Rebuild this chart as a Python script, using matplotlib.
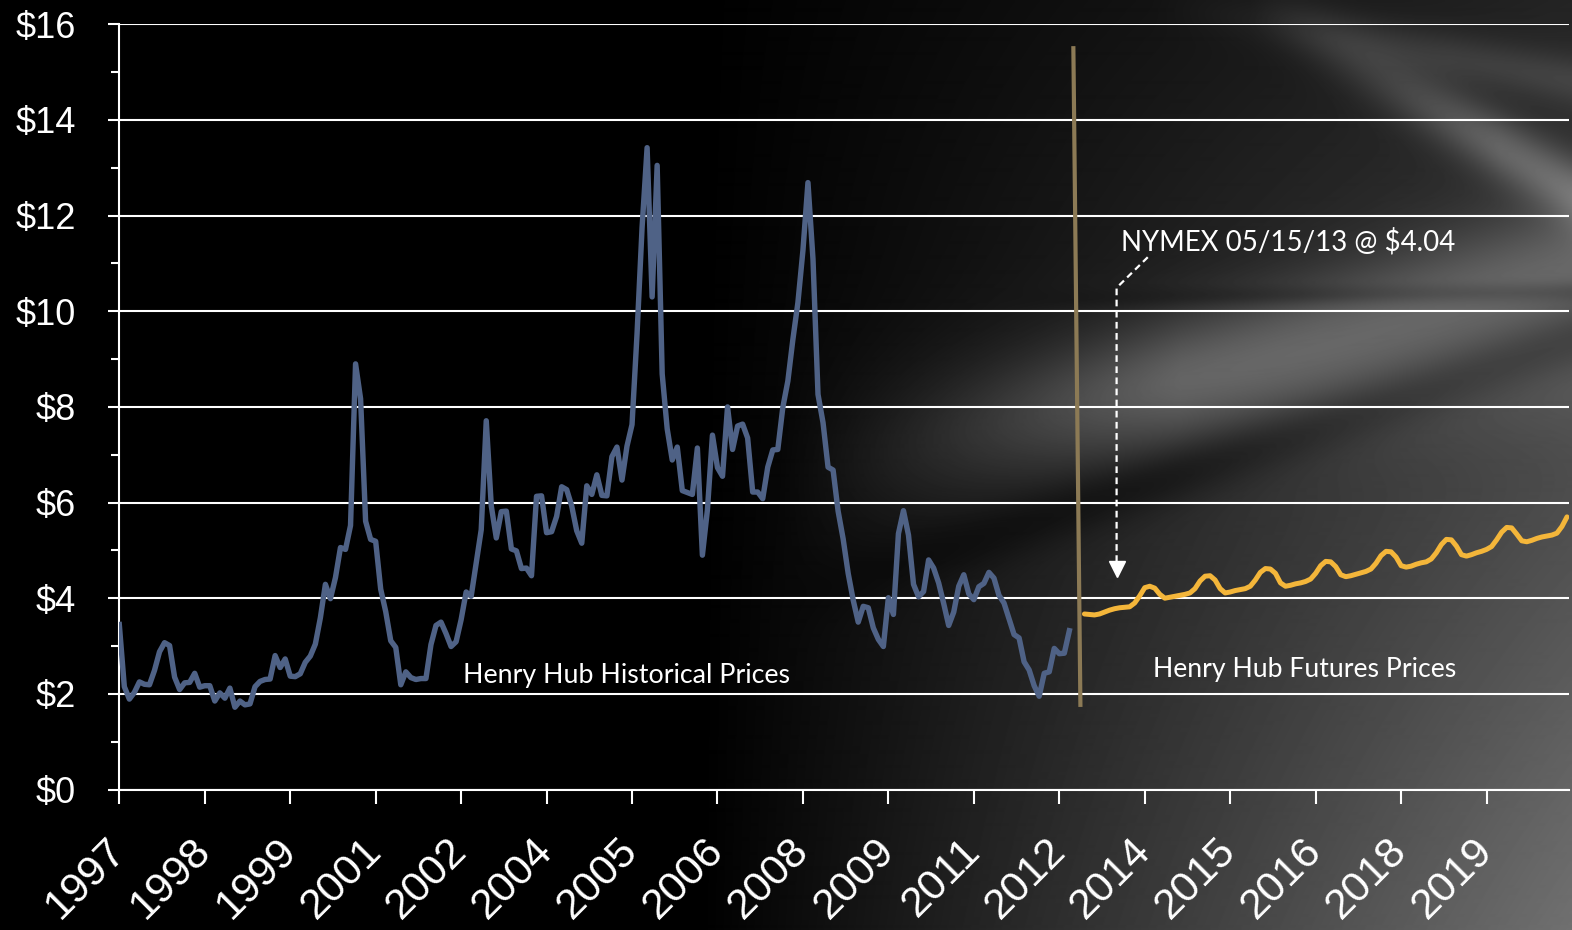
import numpy as np
import matplotlib.pyplot as plt

# Henry Hub spot, monthly averages, Jan 1997 - Oct 2012 ($/MMBtu)
hist_prices = [
    3.45, 2.15, 1.89, 2.03, 2.25, 2.20, 2.19, 2.49, 2.88, 3.07, 3.01, 2.35,   # 1997
    2.09, 2.23, 2.24, 2.43, 2.14, 2.17, 2.17, 1.85, 2.02, 1.91, 2.12, 1.72,   # 1998
    1.85, 1.77, 1.79, 2.15, 2.26, 2.30, 2.31, 2.80, 2.55, 2.73, 2.37, 2.36,   # 1999
    2.42, 2.66, 2.79, 3.04, 3.59, 4.29, 3.99, 4.43, 5.06, 5.02, 5.52, 8.90,   # 2000
    8.17, 5.61, 5.23, 5.19, 4.19, 3.72, 3.11, 2.97, 2.19, 2.46, 2.34, 2.30,   # 2001
    2.32, 2.32, 3.03, 3.43, 3.50, 3.26, 2.99, 3.09, 3.55, 4.13, 4.04, 4.74,   # 2002
    5.43, 7.71, 5.93, 5.26, 5.81, 5.82, 5.03, 4.99, 4.62, 4.63, 4.47, 6.13,   # 2003
    6.14, 5.37, 5.39, 5.71, 6.33, 6.27, 5.93, 5.41, 5.15, 6.35, 6.17, 6.58,   # 2004
    6.15, 6.14, 6.96, 7.16, 6.47, 7.18, 7.63, 9.53, 11.75, 13.42, 10.30, 13.05,  # 2005
    8.69, 7.54, 6.89, 7.16, 6.25, 6.21, 6.17, 7.14, 4.90, 5.85, 7.41, 6.73,   # 2006
    6.55, 8.00, 7.11, 7.60, 7.64, 7.35, 6.22, 6.22, 6.08, 6.74, 7.10, 7.11,   # 2007
    7.99, 8.54, 9.41, 10.18, 11.27, 12.69, 11.09, 8.26, 7.67, 6.74, 6.68, 5.82,  # 2008
    5.24, 4.52, 3.96, 3.50, 3.83, 3.80, 3.38, 3.14, 2.99, 4.01, 3.66, 5.35,   # 2009
    5.83, 5.32, 4.29, 4.03, 4.14, 4.80, 4.63, 4.32, 3.89, 3.43, 3.71, 4.25,   # 2010
    4.49, 4.09, 3.97, 4.24, 4.31, 4.54, 4.42, 4.06, 3.90, 3.57, 3.24, 3.17,   # 2011
    2.67, 2.50, 2.17, 1.95, 2.43, 2.46, 2.95, 2.84, 2.85, 3.32,               # 2012
]

# NYMEX futures strip, monthly from Jan 2013
futures_start = 192
futures_prices = [
    3.67, 3.66, 3.65, 3.67, 3.71, 3.75, 3.78, 3.80, 3.81, 3.82, 3.90, 4.05,
    4.22, 4.25, 4.21, 4.08, 4.00, 4.02, 4.04, 4.06, 4.08, 4.11, 4.20, 4.36,
    4.46, 4.47, 4.38, 4.20, 4.11, 4.13, 4.16, 4.18, 4.20, 4.25, 4.38, 4.54,
    4.62, 4.61, 4.52, 4.32, 4.25, 4.27, 4.30, 4.32, 4.35, 4.40, 4.52, 4.68,
    4.77, 4.76, 4.66, 4.49, 4.45, 4.47, 4.50, 4.53, 4.56, 4.61, 4.73, 4.89,
    4.98, 4.97, 4.86, 4.68, 4.65, 4.67, 4.71, 4.74, 4.76, 4.82, 4.95, 5.12,
    5.23, 5.22, 5.09, 4.91, 4.88, 4.91, 4.95, 4.98, 5.02, 5.08, 5.22, 5.38,
    5.48, 5.47, 5.34, 5.20, 5.18, 5.21, 5.25, 5.28, 5.30, 5.32, 5.36, 5.50,
    5.70,
]

tick_step = 17  # months between category labels
tick_years = ['1997', '1998', '1999', '2001', '2002', '2004', '2005', '2006', '2008',
              '2009', '2011', '2012', '2014', '2015', '2016', '2018', '2019']
y_ticks = [0, 2, 4, 6, 8, 10, 12, 14, 16]

hist_label = 'Henry Hub Historical Prices'
fut_label = 'Henry Hub Futures Prices'
nymex_label = 'NYMEX 05/15/13 @ $4.04'

# divider between history and futures (month index, price)
divider_x = [189.8, 191.2]
divider_y = [15.5, 1.77]
# dashed callout path (month index, price)
callout_x = [204.6, 198.4, 198.4]
callout_y = [11.13, 10.49, 4.75]

# ---- background: black on the left, grey sheen toward the right (pixel space) ----
H, W = 930, 1572
yy, xx = np.mgrid[0:H, 0:W].astype(float)
ramp = np.clip((xx - 700) / 870, 0, 1)
bg = ramp * (0.14 + 0.30 * yy / H)


def streak(p0, p1, width, amp):
    (x0, y0), (x1, y1) = p0, p1
    dx, dy = x1 - x0, y1 - y0
    d = np.abs((xx - x0) * dy - (yy - y0) * dx) / np.hypot(dx, dy)
    return amp * np.exp(-(d / width) ** 2)


sheen = np.clip((xx - 780) / 400, 0, 1)
bg += sheen * streak((850, 470), (1572, 262), 60, 0.17)
bg += sheen * streak((850, 410), (1572, 370), 70, 0.08)
bg += sheen * streak((850, 580), (1572, 340), 30, -0.09)
bg += np.clip((xx - 1000) / 300, 0, 1) * streak((1000, 300), (1572, 292), 10, -0.07)
bg += np.clip((xx - 1250) / 250, 0, 1) * streak((1250, 0), (1572, 190), 30, 0.22)
bg += np.clip((xx - 1150) / 300, 0, 1) * streak((1150, 0), (1572, 80), 25, 0.10)
bg = np.clip(bg, 0, 1)

fig = plt.figure(figsize=(15.72, 9.30), dpi=100)
fig.patch.set_facecolor('black')
bg_ax = fig.add_axes([0, 0, 1, 1], zorder=0)
bg_ax.imshow(bg, cmap='gray', vmin=0, vmax=1, aspect='auto', interpolation='bilinear')
bg_ax.axis('off')

ax = fig.add_axes([119.3 / 1572, (930 - 789.5) / 930, (1569 - 119.3) / 1572, (789.5 - 24.3) / 930],
                  zorder=1)
ax.patch.set_visible(False)

hist_x = np.arange(len(hist_prices))
fut_x = futures_start + np.arange(len(futures_prices))
ax.plot(hist_x, hist_prices, color='#4f6286', lw=3.9, solid_joinstyle='round', zorder=3)
ax.plot(fut_x, futures_prices, color='#f4b63a', lw=3.6, solid_joinstyle='round',
        solid_capstyle='round', zorder=3)
ax.plot(divider_x, divider_y, color='#8c7a55', lw=3, zorder=3)

# callout arrow
ax.plot(callout_x, callout_y, color='white', lw=1.6, ls=(0, (3, 2)), zorder=4)
ax.plot([callout_x[-1]], [4.62], marker='v', ms=12, color='white', mec='white', zorder=4)

font_txt = ['Lato', 'DejaVu Sans']
ax.text(68.4, 2.23, hist_label, color='white', fontsize=19.3, family=font_txt, va='baseline')
ax.text(205.6, 2.35, fut_label, color='white', fontsize=19.2, family=font_txt, va='baseline')
ax.text(199.2, 11.28, nymex_label, color='white', fontsize=19.9, family=font_txt, va='baseline')

ax.set_xlim(0, 288.4)
ax.set_ylim(0, 16)

ax.set_yticks(y_ticks)
ax.set_yticklabels([f'${v}' for v in y_ticks])
ax.set_yticks(range(1, 17, 2), minor=True)
ax.set_xticks(np.arange(len(tick_years)) * tick_step)
ax.set_xticklabels(tick_years, rotation=45, ha='right', va='center', rotation_mode='anchor')

ax.yaxis.grid(True, which='major', color='white', lw=1.5)
ax.set_axisbelow(True)

for side in ['top', 'right']:
    ax.spines[side].set_visible(False)
for side in ['left', 'bottom']:
    ax.spines[side].set_color('white')
    ax.spines[side].set_linewidth(1.5)

ax.tick_params(axis='y', which='major', length=8, width=1.5, color='white',
               labelcolor='white', labelsize=26, pad=23)
ax.tick_params(axis='y', which='minor', length=6, width=1.5, color='white')
ax.tick_params(axis='x', length=10, width=1.5, color='white', labelcolor='white',
               labelsize=31, pad=30)
for lab in ax.get_xticklabels() + ax.get_yticklabels():
    lab.set_family('Liberation Sans')

fig.savefig('out.png', dpi=100, facecolor='black')
